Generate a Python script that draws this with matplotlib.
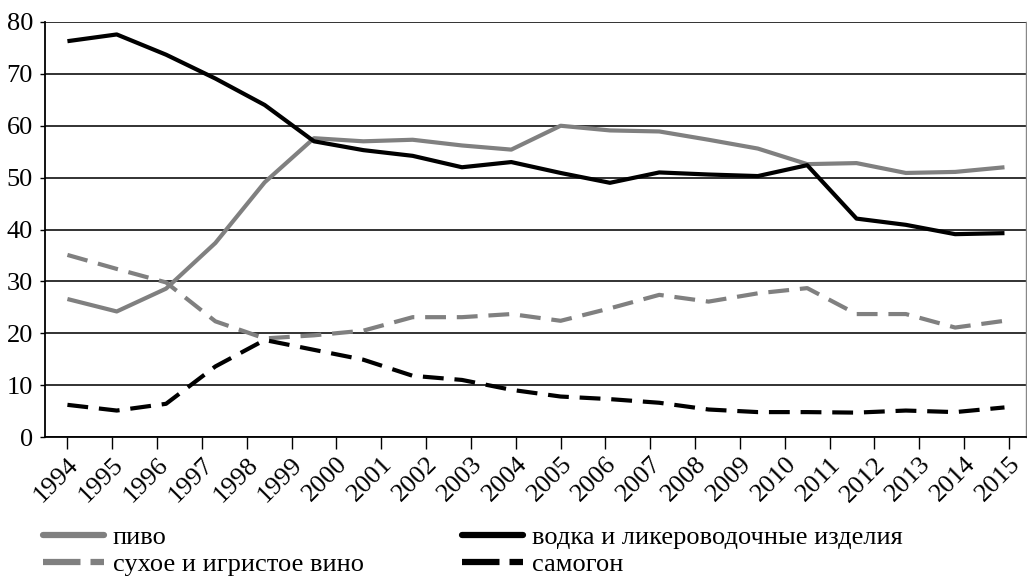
import matplotlib
matplotlib.use('Agg')
import matplotlib.pyplot as plt
import numpy as np

plt.rcParams['font.family'] = ['Liberation Serif', 'DejaVu Serif']

years = [str(y) for y in range(1994, 2016)]

# 20 точек данных, растянутых на шкалу 1994-2015
pivo = [26.6, 24.2, 28.6, 37.4, 49.1, 57.6, 57.0, 57.3, 56.2, 55.4,
        60.0, 59.1, 58.9, 57.3, 55.6, 52.6, 52.8, 50.9, 51.1, 52.0]
vodka = [76.3, 77.6, 73.7, 69.1, 64.0, 57.0, 55.3, 54.2, 52.0, 53.0,
         50.9, 49.0, 51.0, 50.6, 50.3, 52.4, 42.1, 40.9, 39.1, 39.3]
vino = [35.1, 32.4, 29.8, 22.3, 19.0, 19.6, 20.5, 23.1, 23.1, 23.7,
        22.4, 24.8, 27.4, 26.1, 27.7, 28.7, 23.7, 23.7, 21.1, 22.4]
samogon = [6.2, 5.1, 6.4, 13.6, 18.7, 16.8, 14.9, 11.8, 11.0, 9.1,
           7.8, 7.3, 6.6, 5.3, 4.8, 4.8, 4.7, 5.1, 4.8, 5.7]

labels = ['пиво', 'водка и ликероводочные изделия',
          'сухое и игристое вино', 'самогон']

xpos = np.arange(len(pivo)) * 1.1
gray = '#808080'
lw = 3.0

fig = plt.figure(figsize=(10.27, 5.78), dpi=100)
ax = fig.add_axes([45 / 1027, 1 - 437 / 578, 981 / 1027, 415 / 578])

l1, = ax.plot(xpos, pivo, color=gray, lw=lw, solid_capstyle='butt')
l2, = ax.plot(xpos, vodka, color='black', lw=lw, solid_capstyle='butt')
l3, = ax.plot(xpos, vino, color=gray, lw=lw, dashes=(5, 2.6), dash_capstyle='butt')
l4, = ax.plot(xpos, samogon, color='black', lw=lw, dashes=(5, 2.6), dash_capstyle='butt')

ax.set_xlim(-0.5, 21.38)
ax.set_ylim(0, 80)
ax.set_yticks(range(0, 81, 10))
ax.set_xticks(range(len(years)))
ax.set_xticklabels(years, rotation=45, ha='right', va='top', rotation_mode='anchor')
ax.yaxis.grid(True, color='#222222', lw=1.3)
ax.set_axisbelow(True)
ax.spines['top'].set_visible(False)
ax.spines['right'].set_color('#888888')
ax.spines['right'].set_linewidth(1.0)
ax.spines['left'].set_linewidth(1.3)
ax.spines['bottom'].set_linewidth(1.3)
ax.tick_params(axis='x', length=8.6, width=1, pad=3, labelsize=19)
ax.tick_params(axis='y', length=3.6, width=1, pad=5, labelsize=19)

kw = dict(frameon=False, fontsize=19, handlelength=2.3, handletextpad=0.35,
          labelspacing=0.12, borderpad=0, borderaxespad=0, loc='upper left')
leg1 = fig.legend([l1, l3], [labels[0], labels[2]], bbox_to_anchor=(43 / 1027, 1 - 526 / 578), **kw)
leg2 = fig.legend([l2, l4], [labels[1], labels[3]], bbox_to_anchor=(462 / 1027, 1 - 526 / 578), **kw)
for leg in (leg1, leg2):
    hs = leg.get_lines()
    for h in hs:
        h.set_linewidth(4.5)
        h.set_solid_capstyle('round')
    hs[1].set_dashes((6.0, 1.6))

fig.savefig('out.png', dpi=100)
